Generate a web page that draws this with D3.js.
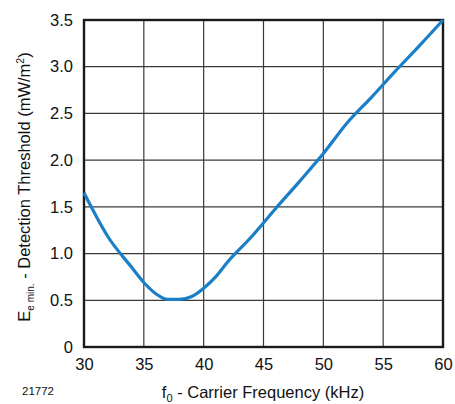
<!DOCTYPE html>
<html>
<head>
<meta charset="utf-8">
<script src="https://cdn.jsdelivr.net/npm/d3@7"></script>
<style>
body { margin: 0; background: #fff; }
text { font-family: "Liberation Sans", Arial, sans-serif; fill: #111; }
</style>
</head>
<body>
<script>
// carrier frequency (kHz) vs detection threshold (mW/m²)
const freq = [30, 32, 34, 35, 36, 37, 38, 39, 40, 41, 42, 44, 46, 48, 50, 52, 54, 56, 58, 60];
const threshold = [1.65, 1.18, 0.85, 0.69, 0.57, 0.51, 0.51, 0.54, 0.63, 0.75, 0.91, 1.18, 1.48, 1.77, 2.07, 2.40, 2.67, 2.95, 3.22, 3.5];
const xTicks = [30, 35, 40, 45, 50, 55, 60];
const yTicks = [0, 0.5, 1.0, 1.5, 2.0, 2.5, 3.0, 3.5];

const width = 455, height = 404;
const margin = {left: 84, right: 12, top: 20, bottom: 57};

const svg = d3.select("body").append("svg")
	.attr("width", width)
	.attr("height", height);

const x = d3.scaleLinear().domain([30, 60]).range([margin.left, width - margin.right]);
const y = d3.scaleLinear().domain([0, 3.5]).range([height - margin.bottom, margin.top]);

// grid
svg.append("g")
	.selectAll("line")
	.data(xTicks)
	.enter().append("line")
	.attr("x1", d => x(d)).attr("x2", d => x(d))
	.attr("y1", y(0)).attr("y2", y(3.5))
	.attr("stroke", "#3a3a3a").attr("stroke-width", 1.2);

svg.append("g")
	.selectAll("line")
	.data(yTicks)
	.enter().append("line")
	.attr("x1", x(30)).attr("x2", x(60))
	.attr("y1", d => y(d)).attr("y2", d => y(d))
	.attr("stroke", "#3a3a3a").attr("stroke-width", 1.2);

// frame
svg.append("rect")
	.attr("x", x(30)).attr("y", y(3.5))
	.attr("width", x(60) - x(30)).attr("height", y(0) - y(3.5))
	.attr("fill", "none").attr("stroke", "#1a1a1a").attr("stroke-width", 2.4);

// curve
const line = d3.line()
	.x((d, i) => x(freq[i]))
	.y(d => y(d))
	.curve(d3.curveMonotoneX);

svg.append("path")
	.datum(threshold)
	.attr("d", line)
	.attr("fill", "none")
	.attr("stroke", "#1a7fc6")
	.attr("stroke-width", 3.2)
	.attr("stroke-linejoin", "round");

// tick labels
const xAxis = d3.axisBottom(x).tickValues(xTicks).tickSize(0).tickPadding(11).tickFormat(d3.format("d"));
svg.append("g")
	.attr("transform", `translate(0,${y(0)})`)
	.call(xAxis)
	.call(g => g.select(".domain").remove())
	.selectAll("text").style("font-size", "16.5px").attr("fill", "#111");

const yAxis = d3.axisLeft(y).tickValues(yTicks).tickSize(0).tickPadding(11)
	.tickFormat(d => d === 0 ? "0" : d3.format(".1f")(d));
svg.append("g")
	.attr("transform", `translate(${x(30)},0)`)
	.call(yAxis)
	.call(g => g.select(".domain").remove())
	.selectAll("text").style("font-size", "16.5px").attr("fill", "#111");

// titles
const xt = svg.append("text")
	.attr("x", 263).attr("y", 398)
	.attr("text-anchor", "middle")
	.style("font-size", "16.5px");
xt.append("tspan").text("f");
xt.append("tspan").attr("dy", 4).style("font-size", "11px").text("0");
xt.append("tspan").attr("dy", -4).text(" - Carrier Frequency (kHz)");

const yt = svg.append("text")
	.attr("transform", `translate(30,187) rotate(-90)`)
	.attr("text-anchor", "middle")
	.style("font-size", "16.5px");
yt.append("tspan").text("E");
yt.append("tspan").attr("dy", 4).style("font-size", "10px").text("e min.");
yt.append("tspan").attr("dy", -4).text(" - Detection Threshold (mW/m");
yt.append("tspan").attr("dy", -6).style("font-size", "10.5px").text("2");
yt.append("tspan").attr("dy", 6).text(")");

svg.append("text")
	.attr("x", 22).attr("y", 395)
	.style("font-size", "11.5px")
	.text("21772");
</script>
</body>
</html>
